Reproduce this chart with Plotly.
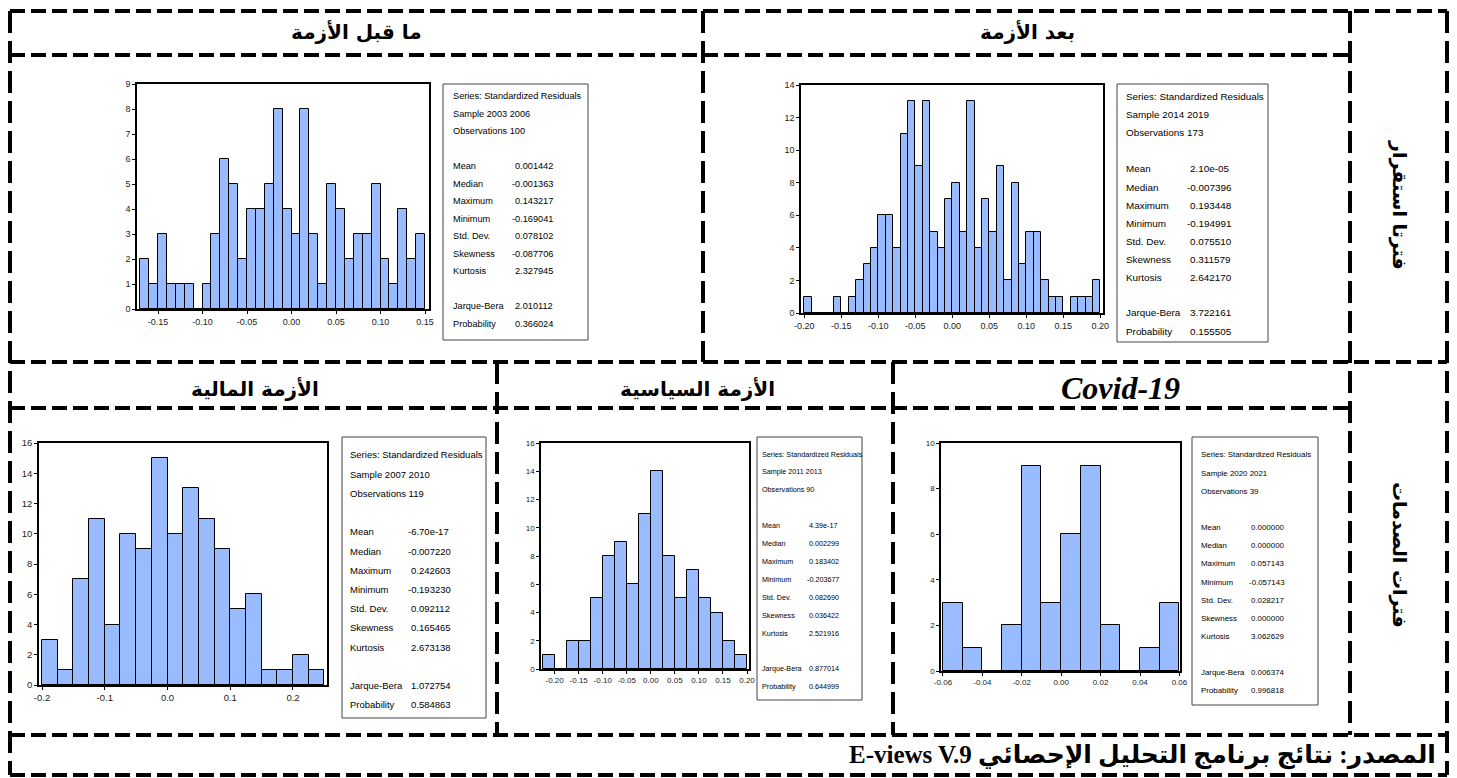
import plotly.graph_objects as go

W, H = 1457, 778

# ---------------- data ----------------
# pre-crisis 2003-2006
pre_bin_start = -0.17
pre_bin_width = 0.01
pre_counts = [2, 1, 3, 1, 1, 1, 0, 1, 3, 6, 5, 2, 4, 4, 5, 8, 4, 3, 8, 3, 1, 5, 4, 2, 3, 3, 5, 2, 1, 4, 2, 3]
pre_xticks = [-0.15, -0.10, -0.05, 0.00, 0.05, 0.10, 0.15]
pre_yticks = [0, 1, 2, 3, 4, 5, 6, 7, 8, 9]
pre_stats = ["Series: Standardized Residuals", "Sample 2003 2006", "Observations 100"]
pre_values = ["0.001442", "-0.001363", "0.143217", "-0.169041", "0.078102", "-0.087706", "2.327945", "2.010112", "0.366024"]

# post-crisis 2014-2019
post_bin_start = -0.20
post_bin_width = 0.01
post_counts = [1, 0, 0, 0, 1, 0, 1, 2, 3, 4, 6, 6, 4, 11, 13, 9, 13, 5, 4, 7, 8, 5, 13, 4, 7, 5, 9, 2, 8, 3,
               5, 5, 2, 1, 1, 0, 1, 1, 1, 2]
post_xticks = [-0.20, -0.15, -0.10, -0.05, 0.00, 0.05, 0.10, 0.15, 0.20]
post_yticks = [0, 2, 4, 6, 8, 10, 12, 14]
post_stats = ["Series: Standardized Residuals", "Sample 2014 2019", "Observations 173"]
post_values = ["2.10e-05", "-0.007396", "0.193448", "-0.194991", "0.075510", "0.311579", "2.642170", "3.722161", "0.155505"]

# financial crisis 2007-2010
fin_bin_start = -0.20
fin_bin_width = 0.025
fin_counts = [3, 1, 7, 11, 4, 10, 9, 15, 10, 13, 11, 9, 5, 6, 1, 1, 2, 1]
fin_xticks = [-0.2, -0.1, 0.0, 0.1, 0.2]
fin_yticks = [0, 2, 4, 6, 8, 10, 12, 14, 16]
fin_stats = ["Series: Standardized Residuals", "Sample 2007 2010", "Observations 119"]
fin_values = ["-6.70e-17", "-0.007220", "0.242603", "-0.193230", "0.092112", "0.165465", "2.673138", "1.072754", "0.584863"]

# political crisis 2011-2013
pol_bin_start = -0.225
pol_bin_width = 0.025
pol_counts = [1, 0, 2, 2, 5, 8, 9, 6, 11, 14, 8, 5, 7, 5, 4, 2, 1]
pol_xticks = [-0.20, -0.15, -0.10, -0.05, 0.00, 0.05, 0.10, 0.15, 0.20]
pol_yticks = [0, 2, 4, 6, 8, 10, 12, 14, 16]
pol_stats = ["Series: Standardized Residuals", "Sample 2011 2013", "Observations 90"]
pol_values = ["4.39e-17", "0.002299", "0.183402", "-0.203677", "0.082690", "0.036422", "2.521916", "0.877014", "0.644999"]

# covid-19 2020-2021
cov_bin_start = -0.06
cov_bin_width = 0.01
cov_counts = [3, 1, 0, 2, 9, 3, 6, 9, 2, 0, 1, 3]
cov_xticks = [-0.06, -0.04, -0.02, 0.00, 0.02, 0.04, 0.06]
cov_yticks = [0, 2, 4, 6, 8, 10]
cov_stats = ["Series: Standardized Residuals", "Sample 2020 2021", "Observations 39"]
cov_values = ["0.000000", "0.000000", "0.057143", "-0.057143", "0.028217", "0.000000", "3.062629", "0.006374", "0.996818"]

stat_labels = ["Mean", "Median", "Maximum", "Minimum", "Std. Dev.", "Skewness", "Kurtosis", "Jarque-Bera", "Probability"]

headers = ["ما قبل الأزمة", "بعد الأزمة", "الأزمة المالية", "الأزمة السياسية", "Covid-19"]
side_labels = ["فترتا استقرار", "فترات الصدمات"]
source_arabic = "المصدر: نتائج برنامج التحليل الإحصائي"
source_latin = "E-views V.9"

# ---------------- layout geometry (pixels) ----------------
panels = [
    dict(start=pre_bin_start, width=pre_bin_width, counts=pre_counts, xt=pre_xticks, yt=pre_yticks, fmt="{:.2f}",
         stats=pre_stats, values=pre_values,
         plot=(137, 429, 84, 309), xr=(-0.1736, 0.1545), yr=(0, 9), tfs=9,
         box=(443, 588, 84, 340), lx=451, vx=513, ty=96, dy=17.5, sfs=9.2),
    dict(start=post_bin_start, width=post_bin_width, counts=post_counts, xt=post_xticks, yt=post_yticks, fmt="{:.2f}",
         stats=post_stats, values=post_values,
         plot=(801, 1103, 85, 313), xr=(-0.2045, 0.2036), yr=(0, 14), tfs=9,
         box=(1117, 1268, 84, 342), lx=1124, vx=1188, ty=97, dy=18, sfs=9.9),
    dict(start=fin_bin_start, width=fin_bin_width, counts=fin_counts, xt=fin_xticks, yt=fin_yticks, fmt="{:.1f}",
         stats=fin_stats, values=fin_values,
         plot=(39, 327, 443, 685), xr=(-0.2048, 0.2542), yr=(0, 16), tfs=9.5,
         box=(342, 486, 437, 718), lx=348, vx=409, ty=455, dy=19.2, sfs=9.5),
    dict(start=pol_bin_start, width=pol_bin_width, counts=pol_counts, xt=pol_xticks, yt=pol_yticks, fmt="{:.2f}",
         stats=pol_stats, values=pol_values,
         plot=(541, 749, 443, 669), xr=(-0.2283, 0.2041), yr=(0, 16), tfs=8,
         box=(757, 862, 437, 700), lx=760, vx=807, ty=454, dy=17.9, sfs=7.2),
    dict(start=cov_bin_start, width=cov_bin_width, counts=cov_counts, xt=cov_xticks, yt=cov_yticks, fmt="{:.2f}",
         stats=cov_stats, values=cov_values,
         plot=(941, 1180, 443, 671), xr=(-0.061, 0.0603), yr=(0, 10), tfs=8,
         box=(1192, 1318, 437, 705), lx=1199, vx=1249, ty=455, dy=18.15, sfs=7.9),
]


def fx(x):
    return x / W


def fy(y):
    return 1 - y / H


BAR_COLOR = "#99BBFF"
TICK_FONT = "Liberation Sans, Arial, sans-serif"
STAT_FONT = "Liberation Sans, Arial, sans-serif"
AR_FONT = "DejaVu Sans, sans-serif"

fig = go.Figure()
layout = dict(width=W, height=H, margin=dict(l=0, r=0, t=0, b=0, pad=0, autoexpand=False),
              paper_bgcolor="white", plot_bgcolor="white", showlegend=False)
shapes = []
annotations = []

for i, p in enumerate(panels):
    n = i + 1
    xa = "xaxis" if n == 1 else f"xaxis{n}"
    ya = "yaxis" if n == 1 else f"yaxis{n}"
    xs = "x" if n == 1 else f"x{n}"
    ys = "y" if n == 1 else f"y{n}"
    centers = [p["start"] + p["width"] * (k + 0.5) for k in range(len(p["counts"]))]
    fig.add_trace(go.Bar(x=centers, y=p["counts"], width=p["width"], xaxis=xs, yaxis=ys,
                         marker=dict(color=BAR_COLOR, line=dict(color="black", width=1)),
                         hoverinfo="skip"))
    x0, x1, t, b = p["plot"]
    common = dict(showline=True, mirror=True, linecolor="black", linewidth=1.5,
                  ticks="outside", ticklen=3, tickcolor="black", tickwidth=1,
                  showgrid=False, zeroline=False, automargin=False,
                  tickfont=dict(family=TICK_FONT, size=p["tfs"], color="#222"))
    layout[xa] = dict(domain=[fx(x0), fx(x1)], range=list(p["xr"]), anchor=ys,
                      tickvals=p["xt"], ticktext=[p["fmt"].format(v).replace("-0.00", "0.00") for v in p["xt"]],
                      **common)
    layout[ya] = dict(domain=[fy(b), fy(t)], range=list(p["yr"]), anchor=xs,
                      tickvals=p["yt"], ticktext=[str(v) for v in p["yt"]], **common)

    # stats box
    bx0, bx1, bt, bb = p["box"]
    shapes.append(dict(type="rect", xref="paper", yref="paper", x0=fx(bx0), x1=fx(bx1), y0=fy(bb), y1=fy(bt),
                       line=dict(color="#444", width=1), fillcolor="rgba(0,0,0,0)"))
    sf = dict(family=STAT_FONT, size=p["sfs"], color="#000")
    for r, txt in enumerate(p["stats"]):
        annotations.append(dict(x=fx(p["lx"]), y=fy(p["ty"] + r * p["dy"]), xref="paper", yref="paper",
                                text=txt, showarrow=False, xanchor="left", yanchor="middle", font=sf))
    row_idx = [4, 5, 6, 7, 8, 9, 10, 12, 13]
    for lab, val, r in zip(stat_labels, p["values"], row_idx):
        yy = fy(p["ty"] + r * p["dy"])
        annotations.append(dict(x=fx(p["lx"]), y=yy, xref="paper", yref="paper", text=lab, showarrow=False,
                                xanchor="left", yanchor="middle", font=sf))
        shift = 0 if val.startswith("-") else p["sfs"] * 0.3
        annotations.append(dict(x=fx(p["vx"]), y=yy, xref="paper", yref="paper", text=val, showarrow=False,
                                xanchor="left", yanchor="middle", xshift=shift - p["sfs"] * 0.3, font=sf))

# ---------------- dashed table grid ----------------
HD = "15px,6px"
VD = "22px,8px"
LW = 4
h_lines = [(11, 10, 1447), (55, 10, 1350), (362, 10, 1447), (408, 10, 1350), (735, 10, 1447), (775, 10, 1447)]
v_lines = [(10, 11, 775), (1447, 11, 775), (1350, 11, 735), (703, 11, 362), (497, 362, 735), (893, 362, 735)]
for y, xa_, xb_ in h_lines:
    shapes.append(dict(type="line", xref="paper", yref="paper", x0=fx(xa_), x1=fx(xb_), y0=fy(y), y1=fy(y),
                       line=dict(color="black", width=LW, dash=HD)))
for x, ya_, yb_ in v_lines:
    shapes.append(dict(type="line", xref="paper", yref="paper", x0=fx(x), x1=fx(x), y0=fy(ya_), y1=fy(yb_),
                       line=dict(color="black", width=LW, dash=VD)))

# ---------------- header texts ----------------
hdr_pos = [(356, 32), (1027, 32), (255, 388), (697, 388)]
for txt, (x, y) in zip(headers[:4], hdr_pos):
    annotations.append(dict(x=fx(x), y=fy(y), xref="paper", yref="paper", text=f"<b>{txt}</b>", showarrow=False,
                            xanchor="center", yanchor="middle", font=dict(family=AR_FONT, size=20, color="black")))
annotations.append(dict(x=fx(1120), y=fy(388), xref="paper", yref="paper", text=f"<b><i>{headers[4]}</i></b>",
                        showarrow=False, xanchor="center", yanchor="middle",
                        font=dict(family="Liberation Serif, Times New Roman, serif", size=32, color="black")))
for txt, y in zip(side_labels, [205, 555]):
    annotations.append(dict(x=fx(1400), y=fy(y), xref="paper", yref="paper", text=f"<b>{txt}</b>", showarrow=False,
                            xanchor="center", yanchor="middle", textangle=90,
                            font=dict(family=AR_FONT, size=19, color="black")))
annotations.append(dict(x=fx(1438), y=fy(755), xref="paper", yref="paper",
                        text=f"<b>{source_latin} {source_arabic}</b>", showarrow=False,
                        xanchor="right", yanchor="middle",
                        font=dict(family="Liberation Serif, DejaVu Sans, serif", size=25, color="black")))

layout["shapes"] = shapes
layout["annotations"] = annotations
layout["bargap"] = 0
fig.update_layout(**layout)
fig.write_html("out.html", config={"displayModeBar": False},
               post_script="document.body.style.margin='0';document.body.style.overflow='hidden';")
